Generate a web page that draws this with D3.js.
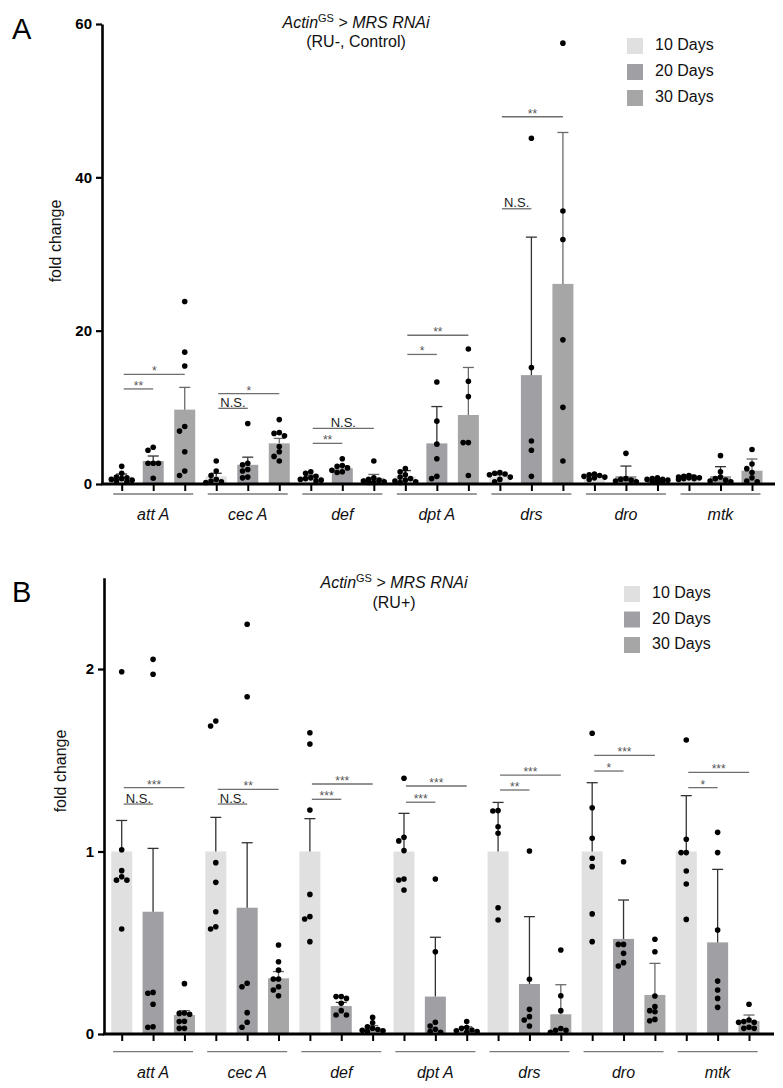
<!DOCTYPE html>
<html><head><meta charset="utf-8">
<script src="https://cdn.jsdelivr.net/npm/d3@7"></script>
<style>
body{margin:0;background:#fff}
svg{display:block}
text{font-family:"Liberation Sans",Arial,Helvetica,sans-serif}
</style>
</head><body>
<svg id="chart" width="783" height="1088"></svg>
<script>
// ---------- DATA ----------
const genes = ["att A","cec A","def","dpt A","drs","dro","mtk"];
const days = ["10 Days","20 Days","30 Days"];
const dayColors = ["#e0e0e0","#9f9fa4","#a6a6a6"];
const errColors = ["#333333","#333333","#6a6a6a"];
const yTicksA = [0,20,40,60];
const yTicksB = [0,1,2];

// Panel A (RU-, Control): means, upper error, individual points
const meanA = [[1.0,3.0,9.7],[1.0,2.5,5.3],[1.0,2.05,0.8],[1.0,5.3,9.0],[1.0,14.2,26.1],[1.0,1.04,0.55],[1.0,1.04,1.74]];
const errA  = [[0.3,0.65,2.9],[0.4,1.0,0.65],[0.15,0.3,0.45],[0.75,4.8,6.2],[0.2,18.0,19.75],[0.15,1.3,0.15],[0.15,1.22,1.52]];
const dotsA = [
  [[2.3,1.4,0.9,0.8,0.7,0.6,0.5,0.4,0.3],[4.8,4.4,2.7,2.7,2.7,0.75],[23.8,17.2,15.4,7.5,6.9,4.2,1.7,1.1]],
  [[3.0,1.7,1.1,0.6,0.4,0.3,0.2],[7.9,2.7,2.5,1.9,1.7,0.9,0.8],[8.4,6.7,6.6,6.3,4.9,4.2,3.6,3.0]],
  [[1.6,1.4,1.0,0.8,0.7,0.6,0.5,0.4],[3.3,2.4,2.3,2.1,1.8,1.6,1.5],[3.0,0.8,0.6,0.5,0.4,0.3,0.2,0.2]],
  [[2.0,1.6,1.2,0.9,0.7,0.5,0.4,0.3,0.2],[13.3,8.2,5.2,3.3,1.0,0.7],[17.6,13.4,11.4,5.4,5.4,1.1]],
  [[1.5,1.4,1.3,1.2,0.9,0.6,0.3],[45.1,15.2,5.6,4.4,1.0],[57.5,35.6,31.9,18.8,10.0,3.0]],
  [[1.3,1.2,1.1,1.0,0.9,0.8,0.6],[4.0,0.7,0.6,0.5,0.4,0.3],[0.8,0.7,0.6,0.6,0.5,0.4,0.3,0.3]],
  [[1.1,1.0,0.9,0.9,0.8,0.8,0.7,0.7,0.6],[3.7,1.6,0.9,0.7,0.5,0.4,0.3],[4.5,2.6,2.0,1.5,0.8,0.4,0.3]]
];
// significance: [gene index, compared day index, bracket value, label]
const sigA = [[0,1,12.4,"**"],[0,2,14.3,"*"],[1,1,9.87,"N.S."],[1,2,11.8,"*"],[2,1,5.3,"**"],[2,2,7.26,"N.S."],
              [3,1,16.9,"*"],[3,2,19.4,"**"],[4,1,35.9,"N.S."],[4,2,47.9,"**"]];

// Panel B (RU+)
const meanB = [[1.0,0.67,0.104],[1.0,0.692,0.305],[1.0,0.153,0.031],[1.0,0.205,0.018],[1.0,0.274,0.108],[1.0,0.521,0.214],[1.0,0.502,0.071]];
const errB  = [[0.17,0.347,0.024],[0.187,0.356,0.037],[0.18,0.02,0.015],[0.209,0.325,0.022],[0.269,0.369,0.162],[0.377,0.213,0.173],[0.306,0.4,0.033]];
const dotsB = [
  [[1.985,1.01,0.895,0.862,0.843,0.843,0.575],[2.053,1.971,0.228,0.223,0.163,0.04,0.037],[0.276,0.115,0.113,0.108,0.07,0.068,0.031,0.031]],
  [[1.715,1.688,0.939,0.831,0.67,0.588,0.575],[2.245,1.848,0.278,0.259,0.117,0.064,0.037],[0.488,0.396,0.35,0.301,0.301,0.259,0.241,0.21]],
  [[1.651,1.589,1.227,0.765,0.643,0.63,0.506],[0.205,0.205,0.195,0.168,0.128,0.104,0.104],[0.091,0.062,0.04,0.031,0.025,0.02,0.018,0.015]],
  [[1.401,1.078,1.058,1.005,0.849,0.844,0.789],[0.849,0.451,0.064,0.044,0.026,0.013,0.01],[0.068,0.035,0.031,0.022,0.018,0.013,0.01]],
  [[1.224,1.222,1.136,1.1,0.692,0.625],[1.003,0.3,0.135,0.095,0.077,0.044],[0.46,0.21,0.128,0.03,0.02,0.02,0.01]],
  [[1.648,1.24,1.072,0.963,0.917,0.658,0.506],[0.944,0.491,0.491,0.442,0.391,0.373],[0.519,0.451,0.208,0.15,0.128,0.122,0.08,0.073]],
  [[1.611,1.067,0.994,0.994,0.893,0.822,0.628],[1.105,0.994,0.57,0.29,0.241,0.195,0.146],[0.163,0.077,0.068,0.064,0.064,0.037,0.031,0.031]]
];
const sigB = [[0,1,1.26,"N.S."],[0,2,1.35,"***"],[1,1,1.26,"N.S."],[1,2,1.34,"**"],[2,1,1.286,"***"],[2,2,1.37,"***"],
              [3,1,1.27,"***"],[3,2,1.359,"***"],[4,1,1.337,"**"],[4,2,1.419,"***"],[5,1,1.441,"*"],[5,2,1.527,"***"],
              [6,1,1.35,"*"],[6,2,1.434,"***"]];

// ---------- DRAW ----------
const svg = d3.select("#chart");

function swarm(vals, y, r){
  const placed = [];
  const step = 5.2, cands = [0,-1,1,-2,2];
  return vals.map(v=>{
    const py = y(v);
    let best = null, bestD = -1;
    for(const c of cands){
      const px = c*step;
      const dmin = placed.length ? d3.min(placed, p=>Math.hypot(p[0]-px,p[1]-py)) : Infinity;
      if(dmin >= 2*r - 0.6){ best = px; bestD = Infinity; break; }
      if(dmin > bestD){ bestD = dmin; best = px; }
    }
    placed.push([best,py]);
    return [best,py];
  });
}

function panel(cfg){
  const g = svg.append("g");
  const keys = [];
  genes.forEach((gn,gi)=>days.forEach((d,di)=>keys.push(gi+"|"+di)));
  const x = d3.scalePoint().domain(keys).range(cfg.xRange);
  const y = d3.scaleLinear().domain(cfg.yDomain).range([cfg.base, cfg.top]);
  const barW = 21;

  // bars
  genes.forEach((gn,gi)=>days.forEach((d,di)=>{
    const cx = x(gi+"|"+di);
    const m = cfg.mean[gi][di], e = cfg.err[gi][di];
    g.append("rect").attr("x",cx-barW/2).attr("width",barW)
      .attr("y",y(m)).attr("height",y(0)-y(m)).attr("fill",dayColors[di]);
    // error bar
    g.append("line").attr("x1",cx).attr("x2",cx).attr("y1",y(m)).attr("y2",y(m+e))
      .attr("stroke",errColors[di]).attr("stroke-width",1.3);
    g.append("line").attr("x1",cx-5.5).attr("x2",cx+5.5).attr("y1",y(m+e)).attr("y2",y(m+e))
      .attr("stroke",errColors[di]).attr("stroke-width",1.3);
  }));
  // dots
  genes.forEach((gn,gi)=>days.forEach((d,di)=>{
    const cx = x(gi+"|"+di);
    const pts = swarm(cfg.dots[gi][di], y, 2.8);
    pts.forEach(p=>g.append("circle").attr("cx",cx+p[0]).attr("cy",p[1]).attr("r",2.8).attr("fill","#000"));
  }));

  // y axis
  const ya = g.append("g").attr("transform",`translate(${cfg.yAxisX},0)`)
    .call(d3.axisLeft(y).tickValues(cfg.ticks).tickSize(6).tickSizeOuter(0).tickPadding(4).tickFormat(d3.format("d")));
  ya.select(".domain").attr("stroke","#000").attr("stroke-width",2.6);
  ya.selectAll(".tick line").attr("stroke","#000").attr("stroke-width",2.2);
  ya.selectAll(".tick text").attr("font-size",15).attr("font-weight","bold").attr("fill","#000")
    .style("font-family",'"Liberation Sans",Arial,sans-serif');

  // x axis baseline + ticks
  g.append("line").attr("x1",cfg.yAxisX-1).attr("x2",cfg.xEnd).attr("y1",cfg.base).attr("y2",cfg.base)
    .attr("stroke","#000").attr("stroke-width",2.8);
  const xa = g.append("g").attr("transform",`translate(0,${cfg.base})`)
    .call(d3.axisBottom(x).tickSize(7).tickSizeOuter(0).tickFormat(""));
  xa.select(".domain").remove();
  xa.selectAll(".tick line").attr("stroke","#000").attr("stroke-width",2);

  // group underlines and labels
  genes.forEach((gn,gi)=>{
    const c = x(gi+"|1");
    g.append("line").attr("x1",c-40).attr("x2",c+40).attr("y1",cfg.underY).attr("y2",cfg.underY)
      .attr("stroke","#7a7a7a").attr("stroke-width",1.3);
    g.append("text").attr("x",c).attr("y",cfg.labelY).attr("text-anchor","middle")
      .attr("font-size",16).attr("font-style","italic").attr("fill","#111").text(gn);
  });

  // significance brackets
  cfg.sig.forEach(([gi,di,v,lab])=>{
    const x1 = x(gi+"|0")+2, x2 = x(gi+"|"+di);
    const yy = y(v);
    g.append("line").attr("x1",x1).attr("x2",x2).attr("y1",yy).attr("y2",yy)
      .attr("stroke","#6e6e6e").attr("stroke-width",1.3);
    const isNS = lab==="N.S.";
    g.append("text").attr("x",(x1+x2)/2).attr("y",isNS? yy-1.5 : yy+1)
      .attr("text-anchor","middle").attr("font-size",isNS?13:12)
      .attr("fill",isNS?"#222":"#555").text(lab);
  });

  // y label
  g.append("text").attr("transform",`translate(${cfg.yLabelX},${cfg.yLabelY}) rotate(-90)`)
    .attr("text-anchor","middle").attr("font-size",16).attr("fill","#111").text("fold change");

  // panel letter
  g.append("text").attr("x",12).attr("y",cfg.letterY).attr("font-size",29).attr("fill","#000").text(cfg.letter);

  // title
  const t1 = g.append("text").attr("x",cfg.titleX).attr("y",cfg.titleY).attr("text-anchor","middle")
    .attr("font-size",16).attr("fill","#111");
  t1.append("tspan").attr("font-style","italic").text("Actin");
  t1.append("tspan").attr("font-size",11).attr("dy",-6).text("GS");
  t1.append("tspan").attr("dy",6).text(" > ");
  t1.append("tspan").attr("font-style","italic").text("MRS RNAi");
  g.append("text").attr("x",cfg.titleX).attr("y",cfg.titleY+19.5).attr("text-anchor","middle")
    .attr("font-size",16).attr("fill","#111").text(cfg.subtitle);

  // legend
  days.forEach((d,di)=>{
    g.append("rect").attr("x",cfg.legX).attr("y",cfg.legY+di*cfg.legStep).attr("width",16).attr("height",16)
      .attr("fill",dayColors[di]);
    g.append("text").attr("x",cfg.legX+28).attr("y",cfg.legY+12+di*cfg.legStep)
      .attr("font-size",16).attr("fill","#111").text(d);
  });
}

panel({letter:"A", letterY:39, mean:meanA, err:errA, dots:dotsA, sig:sigA,
  yDomain:[0,60], ticks:yTicksA, base:484, top:24, xRange:[121.7,752], yAxisX:102, xEnd:775,
  underY:494, labelY:520, yLabelX:61, yLabelY:241, titleX:356, titleY:27.5, subtitle:"(RU-, Control)",
  legX:627, legY:38, legStep:26});

panel({letter:"B", letterY:602, mean:meanB, err:errB, dots:dotsB, sig:sigB,
  yDomain:[0,2.5], ticks:yTicksB, base:1034, top:1034-2.5*182.5, xRange:[121.7,749], yAxisX:104, xEnd:774,
  underY:1051.7, labelY:1078, yLabelX:66, yLabelY:771, titleX:394, titleY:588, subtitle:"(RU+)",
  legX:624, legY:586, legStep:25.5});
</script>
</body></html>
